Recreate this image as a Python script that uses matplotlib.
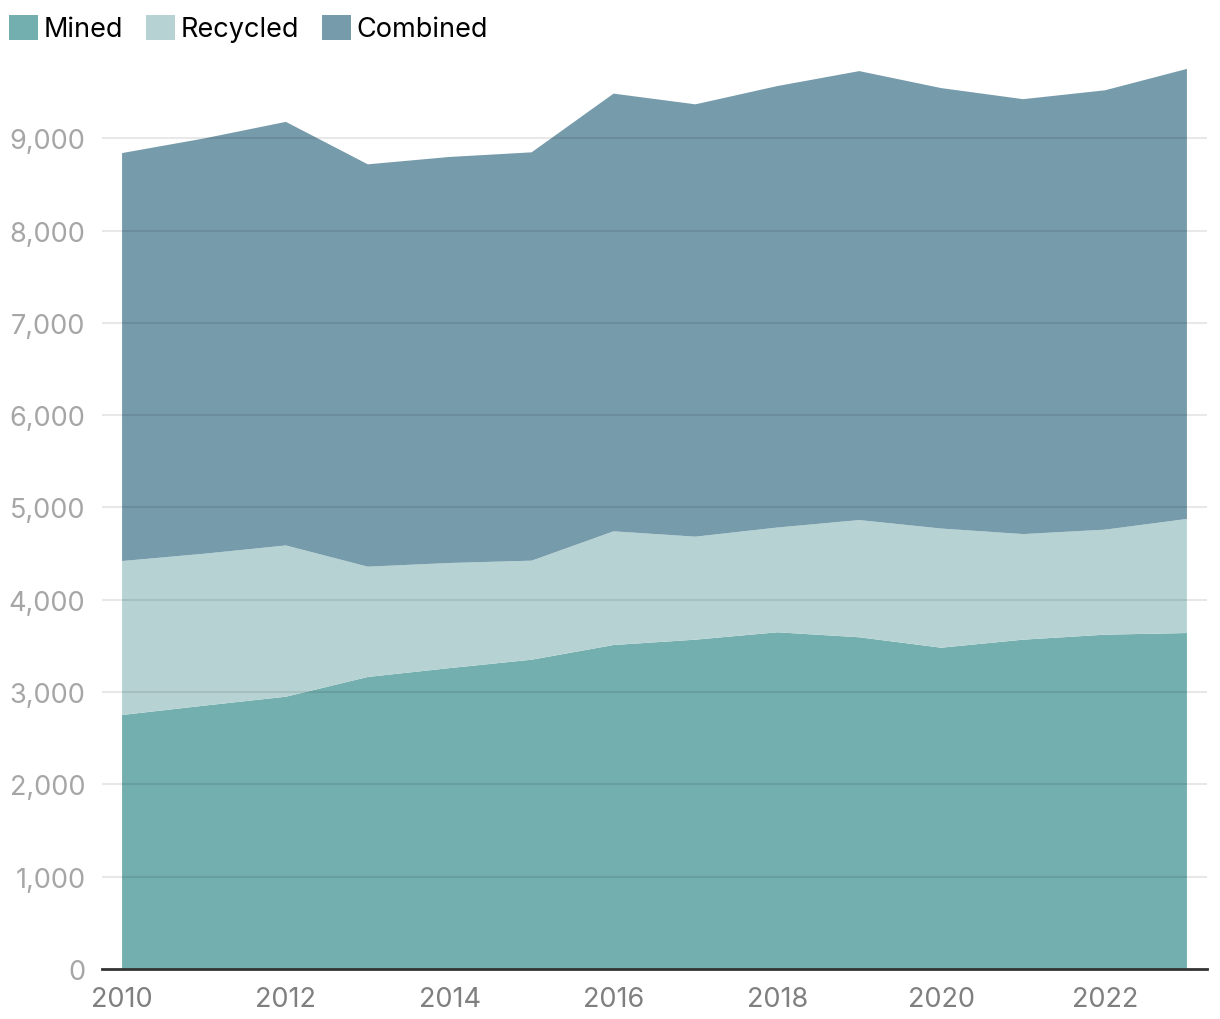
import matplotlib
matplotlib.use("Agg")
import matplotlib.pyplot as plt
from matplotlib.patches import Patch
from matplotlib.ticker import FuncFormatter

years = [2010, 2011, 2012, 2013, 2014, 2015, 2016, 2017, 2018, 2019, 2020, 2021, 2022, 2023]
mined = [2752, 2853, 2950, 3164, 3260, 3351, 3510, 3568, 3648, 3594, 3481, 3568, 3622, 3640]
recycled = [1668, 1646, 1639, 1195, 1139, 1073, 1232, 1116, 1135, 1270, 1291, 1144, 1138, 1236]
combined = [m + r for m, r in zip(mined, recycled)]
series_names = ["Mined", "Recycled", "Combined"]
colors = ["#73afae", "#b7d2d3", "#769bab"]
xticks = [2010, 2012, 2014, 2016, 2018, 2020, 2022]
yticks = [0, 1000, 2000, 3000, 4000, 5000, 6000, 7000, 8000, 9000]

plt.rcParams['font.family'] = ['Inter', 'DejaVu Sans']

fig = plt.figure(figsize=(12.2, 10.2), dpi=100)
ax = fig.add_axes([102/1220, 50/1020, (1207-102)/1220, (970-47)/1020])

ax.stackplot(years, mined, recycled, combined, colors=colors, linewidth=0, zorder=1)

ax.set_xlim(2010 - 0.245, 2023 + 0.245)
ax.set_ylim(0, 10000)
ax.set_yticks(yticks)
ax.set_xticks(xticks)
ax.yaxis.set_major_formatter(FuncFormatter(lambda v, p: f"{int(v):,}"))

for y in yticks[1:]:
    ax.axhline(y, color=(0, 0, 0, 0.09), linewidth=1.5, zorder=3)

for s in ["top", "right", "left"]:
    ax.spines[s].set_visible(False)
ax.spines["bottom"].set_color("#333333")
ax.spines["bottom"].set_linewidth(2)
ax.spines["bottom"].set_zorder(4)

ax.tick_params(axis="y", length=0, pad=12, labelsize=19.5, labelcolor="#a6a6a6")
ax.tick_params(axis="x", length=0, pad=12, labelsize=19.5, labelcolor="#7f7f7f")

handles = [Patch(facecolor=c, edgecolor="none") for c in colors]
fig.legend(handles, series_names, loc="upper left", bbox_to_anchor=(0.0, 0.994),
           ncol=3, frameon=False, fontsize=19.5, handlelength=1.05, handleheight=1.05,
           handletextpad=0.22, columnspacing=0.85, borderpad=0.1, borderaxespad=0.25)

fig.savefig("out.png", dpi=100)
